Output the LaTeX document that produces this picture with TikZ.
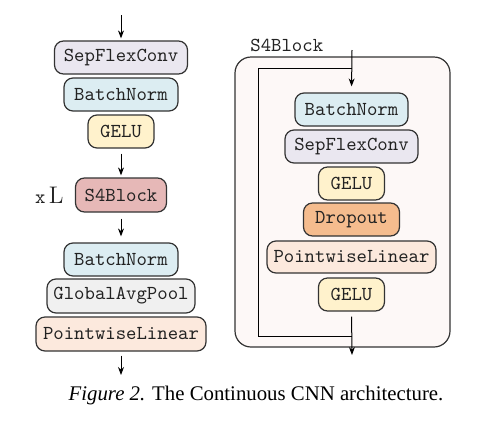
\documentclass[tikz,border=0pt]{standalone}
\usepackage{fontspec}
\newfontfamily\capfont{Liberation Serif}
\usetikzlibrary{arrows.meta}
\definecolor{cSep}{HTML}{EAE7F0}
\definecolor{cBN}{HTML}{DCEDF2}
\definecolor{cGelu}{HTML}{FFF2CC}
\definecolor{cS4}{HTML}{E6B8B7}
\definecolor{cGAP}{HTML}{F0F0F0}
\definecolor{cPL}{HTML}{FCE9DD}
\definecolor{cDrop}{HTML}{F5BC8E}
\definecolor{cOuter}{HTML}{FDF8F7}
\definecolor{cLine}{HTML}{333333}
\definecolor{cText}{HTML}{222222}
\tikzset{
  blk/.style={draw=cLine, line width=0.6pt, rounded corners=4.5pt, inner sep=0pt,
    minimum height=16.5pt, text=cText, font=\fontsize{9.9}{11}\selectfont\ttfamily},
  arr/.style={-{Stealth[length=4pt,width=3pt]}, line width=0.5pt, black},
  skip/.style={line width=0.5pt, black},
}
\begin{document}
\begin{tikzpicture}[x=0.5pt,y=-0.5pt]
\useasboundingbox (0,0) rectangle (502,429);
% left column
\node[blk, fill=cSep, minimum width=66.5pt] (sep) at (121,57.5) {SepFlexConv};
\node[blk, fill=cBN, minimum width=57pt] (bn) at (121,94.5) {BatchNorm};
\node[blk, fill=cGelu, minimum width=33pt] (gelu) at (121,131.5) {GELU};
\node[blk, fill=cS4, minimum width=45.5pt, minimum height=17pt] (s4) at (121,195) {S4Block};
\node[anchor=east, inner sep=0pt, text=cText] (xl) at (64,195) {{\fontsize{9.9}{11}\selectfont\ttfamily x}\,{\fontsize{12}{12}\selectfont L}};
\node[blk, fill=cBN, minimum width=57pt] (bn2) at (121,259.5) {BatchNorm};
\node[blk, fill=cGAP, minimum width=74pt, minimum height=17pt] (gap) at (121,296) {GlobalAvgPool};
\node[blk, fill=cPL, minimum width=85pt, minimum height=17pt] (pl) at (121,334) {PointwiseLinear};
\coordinate (in) at (121,15);
\coordinate (out) at (121,375);
\draw[arr] (in) -- ([yshift=1pt]sep.north);
\draw[arr, shorten <=2.5pt, shorten >=1pt] (gelu.south) -- (s4.north);
\draw[arr, shorten <=3pt, shorten >=3pt] (s4.south) -- (bn2.north);
\draw[arr, shorten <=2pt] (pl.south) -- (out);
% right block
\draw[cLine, line width=0.6pt, fill=cOuter, rounded corners=8pt] (235,57) rectangle (450,347);
\node[anchor=west, inner sep=0pt, text=cText, font=\fontsize{9.9}{11}\selectfont\ttfamily] (lbl) at (250,45) {S4Block};
\node[blk, fill=cBN, minimum width=56.5pt] (rbn) at (351.5,109.5) {BatchNorm};
\node[blk, fill=cSep, minimum width=66.5pt] (rsep) at (351.5,146.5) {SepFlexConv};
\node[blk, fill=cGelu, minimum width=33pt] (rgelu) at (351.5,183.5) {GELU};
\node[blk, fill=cDrop, minimum width=48pt] (rdrop) at (351.5,219.5) {Dropout};
\node[blk, fill=cPL, minimum width=84.5pt, minimum height=16pt] (rpl) at (351.5,257) {PointwiseLinear};
\node[blk, fill=cGelu, minimum width=33pt] (rgelu2) at (351.5,294.5) {GELU};
\coordinate (rin) at (352,50);
\coordinate (rsplit) at (352,68);
\coordinate (rjoin) at (352,336);
\coordinate (rout) at (352,355);
\draw[arr, shorten >=3pt] (rin) -- (rbn.north);
\draw[skip] (rsplit) -| (258,336) -- (rjoin);
\draw[arr, shorten <=2.5pt] (rgelu2.south) -- (rout);
% caption
\node[inner sep=0pt, font=\capfont\fontsize{10.4}{12}\selectfont] (cap) at (256,395) {\textit{Figure 2.} The Continuous CNN architecture.};
\end{tikzpicture}
\end{document}
